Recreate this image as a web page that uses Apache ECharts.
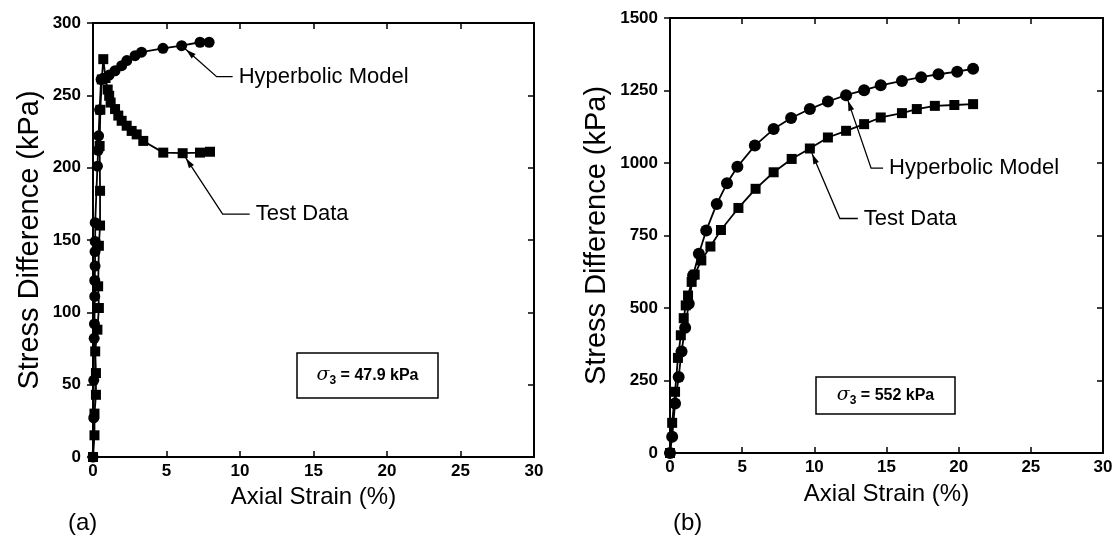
<!DOCTYPE html>
<html>
<head>
<meta charset="utf-8">
<script src="https://cdn.jsdelivr.net/npm/echarts@6/dist/echarts.min.js"></script>
<style>html,body{margin:0;padding:0;background:#fff}#c{width:1119px;height:549px}</style>
</head>
<body>
<div id="c"></div>
<script>
// ---- data (axial strain %, stress difference kPa) ----
const xTickLabels = ['0','5','10','15','20','25','30'];
const aYTickLabels = ['0','50','100','150','200','250','300'];
const bYTickLabels = ['0','250','500','750','1000','1250','1500'];

// (a) sigma3 = 47.9 kPa
const aModel = [[0,0],[0.05,27],[0.05,53],[0.08,82],[0.1,92],[0.12,111],[0.12,122],[0.14,132],[0.14,142],[0.15,149],[0.15,162],[0.3,201],[0.35,212],[0.38,222],[0.45,240],[0.55,261],[1.1,264],[1.5,267],[1.95,270.5],[2.3,274],[2.86,277.4],[3.3,279.8],[4.76,282.5],[6.03,284.3],[7.28,286.7],[7.9,286.7]];
const aTest = [[0,0],[0.1,15],[0.1,30],[0.2,43],[0.2,58],[0.15,73],[0.3,88],[0.4,103],[0.35,118],[0.4,146],[0.48,160],[0.48,184],[0.45,215],[0.5,240],[0.6,261],[0.7,275],[0.85,262],[1.0,254],[1.1,249.7],[1.2,245],[1.5,240.5],[1.72,236],[1.95,232.4],[2.29,229],[2.63,225.4],[2.97,223],[3.42,218.5],[4.78,210.4],[6.1,210],[7.28,210.4],[7.96,211]];

// (b) sigma3 = 552 kPa
const bModel = [[0,0],[0.15,56],[0.35,171],[0.6,262],[0.8,350],[1.05,432],[1.3,515],[1.6,612],[2.0,687],[2.51,767],[3.24,859],[3.95,930],[4.67,987],[5.88,1060],[7.18,1117],[8.39,1155],[9.69,1186],[10.94,1212],[12.2,1234],[13.45,1251],[14.6,1268],[16.07,1283],[17.4,1296],[18.6,1306],[19.9,1315],[21,1325]];
const bTest = [[0,0],[0.15,104],[0.35,211],[0.55,328],[0.75,406],[0.95,465],[1.09,509],[1.25,543],[1.5,590],[1.71,615],[2.17,664],[2.8,712],[3.53,769],[4.74,845],[5.93,911],[7.18,968],[8.43,1014],[9.69,1050],[10.94,1088],[12.2,1111],[13.45,1134],[14.6,1157],[16.07,1172],[17.1,1186],[18.35,1197],[19.7,1200],[21,1203]];

const FONT = '"Liberation Sans", Arial, sans-serif';
const chart = echarts.init(document.getElementById('c'), null, {renderer:'canvas'});

function xAx(gi, pos, show, nameGap) {
  return {
    type:'value', gridIndex:gi, position:pos, min:0, max:30, interval:5,
    name: show ? 'Axial Strain (%)' : '', nameLocation:'middle', nameGap:nameGap,
    nameTextStyle:{fontFamily:FONT, fontSize:24, color:'#000'},
    axisLine:{show:true, onZero:false, lineStyle:{color:'#000', width:2}},
    axisTick:{show:true, inside:true, length:6, lineStyle:{color:'#000', width:1.5}},
    axisLabel:{show:show, margin:6, fontFamily:FONT, fontSize:17, fontWeight:'bold', color:'#000',
      formatter:(v)=>xTickLabels[Math.round(v/5)]},
    splitLine:{show:false}
  };
}
function yAx(gi, pos, show, max, step, labels, nameGap) {
  return {
    type:'value', gridIndex:gi, position:pos, min:0, max:max, interval:step,
    name: show ? 'Stress Difference (kPa)' : '', nameLocation:'middle', nameGap:nameGap,
    nameTextStyle:{fontFamily:FONT, fontSize:29, color:'#000'},
    axisLine:{show:true, onZero:false, lineStyle:{color:'#000', width:2}},
    axisTick:{show:true, inside:!show, length:6, lineStyle:{color:'#000', width:1.5}},
    axisLabel:{show:show, margin:12, fontFamily:FONT, fontSize:17, fontWeight:'bold', color:'#000',
      formatter:(v)=>labels[Math.round(v/step)]},
    splitLine:{show:false}
  };
}
function ser(name, data, xi, yi, sym, size) {
  return {
    name:name, type:'line', data:data, xAxisIndex:xi, yAxisIndex:yi,
    symbol:sym, symbolSize:size, showSymbol:true, smooth:false,
    lineStyle:{color:'#000', width:1.8}, itemStyle:{color:'#000'},
    animation:false, z:3
  };
}

chart.setOption({
  backgroundColor:'#fff',
  animation:false,
  grid:[
    {left:93, top:23, width:441, height:434},
    {left:670, top:18, width:433, height:435}
  ],
  xAxis:[xAx(0,'bottom',true,27), xAx(0,'top',false,0), xAx(1,'bottom',true,29), xAx(1,'top',false,0)],
  yAxis:[yAx(0,'left',true,300,50,aYTickLabels,49), yAx(0,'right',false,300,50,aYTickLabels,0),
         yAx(1,'left',true,1500,250,bYTickLabels,59), yAx(1,'right',false,1500,250,bYTickLabels,0)],
  series:[
    ser('Hyperbolic Model (a)', aModel, 0, 0, 'circle', 11),
    ser('Test Data (a)', aTest, 0, 0, 'rect', 10),
    ser('Hyperbolic Model (b)', bModel, 2, 2, 'circle', 12),
    ser('Test Data (b)', bTest, 2, 2, 'rect', 10)
  ]
});

// ---- annotations ----
function leader(ai, pt, elbow, endX, text) {
  const p = chart.convertToPixel({xAxisIndex:ai, yAxisIndex:ai}, pt);
  const e = [p[0]+elbow[0], p[1]+elbow[1]];
  const dx = e[0]-p[0], dy = e[1]-p[1], L = Math.hypot(dx,dy);
  const ux = dx/L, uy = dy/L, nx = -uy, ny = ux;
  const tip = [p[0]+ux*6, p[1]+uy*6];
  const base = [p[0]+ux*16, p[1]+uy*16];
  return [
    {type:'polyline', shape:{points:[[p[0]+ux*5,p[1]+uy*5], e, [e[0]+endX, e[1]]]}, style:{stroke:'#000', lineWidth:1.3, fill:null}, z:10},
    {type:'polygon', shape:{points:[tip,[base[0]+nx*3,base[1]+ny*3],[base[0]-nx*3,base[1]-ny*3]]}, style:{fill:'#000'}, z:10},
    {type:'text', x:e[0]+endX+6, y:e[1], style:{text:text, font:'22px '+FONT, fill:'#000', textVerticalAlign:'middle', verticalAlign:'middle'}, z:10}
  ];
}
function sigmaBox(x, y, w, h, val) {
  return [
    {type:'rect', shape:{x:x, y:y, width:w, height:h}, style:{fill:'#fff', stroke:'#000', lineWidth:1.5}, z:5},
    {type:'text', x:x+w/2, y:y+h/2, z:6, style:{
      text:'{s|σ}{sub|3}{t| = '+val+' kPa}', align:'center', verticalAlign:'middle',
      rich:{
        s:{fontFamily:'"DejaVu Serif", serif', fontStyle:'italic', fontSize:19, fill:'#000'},
        sub:{fontFamily:FONT, fontSize:12, fontWeight:'bold', fill:'#000', padding:[10,0,0,0]},
        t:{fontFamily:FONT, fontSize:16, fontWeight:'bold', fill:'#000'}
      }}}
  ];
}
let g = [];
g = g.concat(leader(0, [6.03,284.3], [35,31], 16, 'Hyperbolic Model'));
g = g.concat(leader(0, [6.1,210], [40,61], 27, 'Test Data'));
g = g.concat(leader(2, [12.2,1234], [25,73], 12, 'Hyperbolic Model'));
g = g.concat(leader(2, [9.69,1050], [30,70], 18, 'Test Data'));
g = g.concat(sigmaBox(297, 353, 141, 45, '47.9'));
g = g.concat(sigmaBox(816, 377, 139, 37, '552'));
g.push({type:'text', x:68, y:523, style:{text:'(a)', font:'24px '+FONT, fill:'#000', verticalAlign:'middle', textVerticalAlign:'middle'}});
g.push({type:'text', x:673, y:523, style:{text:'(b)', font:'24px '+FONT, fill:'#000', verticalAlign:'middle', textVerticalAlign:'middle'}});
chart.setOption({graphic:{elements:g}});
</script>
</body>
</html>
